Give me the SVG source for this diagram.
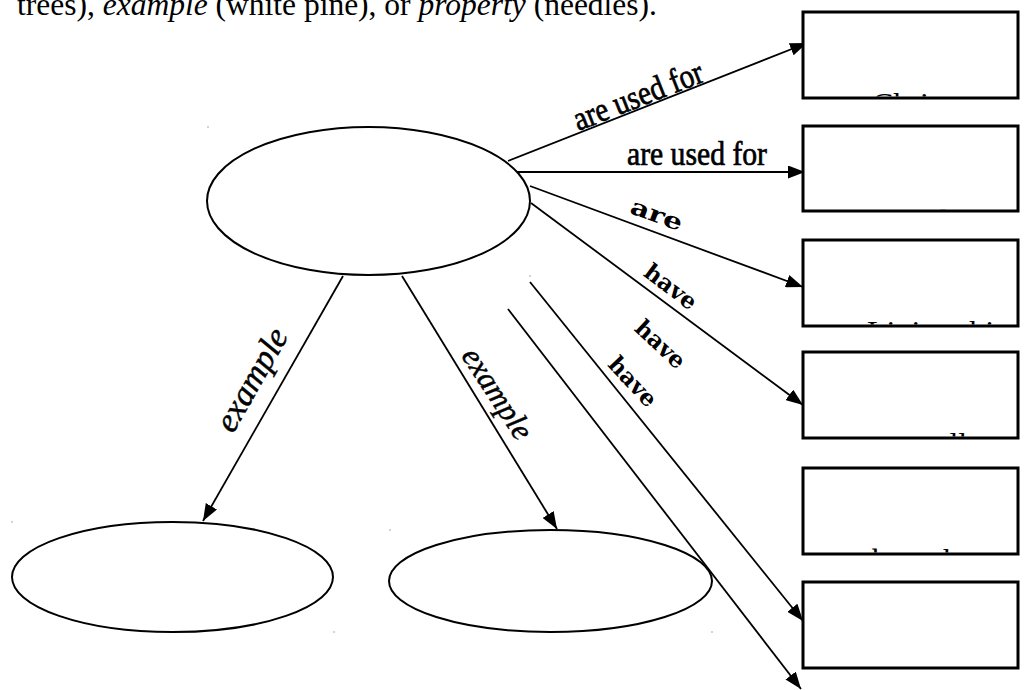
<svg xmlns="http://www.w3.org/2000/svg" width="1028" height="690" viewBox="0 0 1028 690">
  <style>
    .node-shape { fill: #ffffff; stroke: #000000; stroke-width: 2; }
    .box { fill: #ffffff; stroke: #000000; stroke-width: 3; }
    .conn { stroke: #000000; stroke-width: 1.8; fill: none; }
    .lbl-serif { font-family: "Liberation Serif", "Times New Roman", serif; fill: #000; }
    .lbl-heavy { stroke: #000; stroke-width: 0.7; }
    .lbl-bold { font-family: "DejaVu Serif", "Liberation Serif", serif; font-weight: bold; fill: #000; font-size: 23px; }
    .lbl-italic { font-family: "Liberation Serif", "Times New Roman", serif; font-style: italic; fill: #000; stroke: #000; stroke-width: 0.5; }
    .frag { font-family: "Liberation Serif", "Times New Roman", serif; font-size: 32px; fill: #000; }
    .speck { fill: #555; }
  </style>
  <defs>
    <marker id="arrow" markerUnits="userSpaceOnUse" markerWidth="17" markerHeight="13" refX="17" refY="6.5" orient="auto">
      <path d="M0,0 L17,6.5 L0,13 z" fill="#000"/>
    </marker>
    <clipPath id="clip1"><rect x="803" y="12" width="215" height="84.5"/></clipPath>
    <clipPath id="clip2"><rect x="803" y="126" width="215" height="83.5"/></clipPath>
    <clipPath id="clip3"><rect x="803" y="240" width="215" height="84.5"/></clipPath>
    <clipPath id="clip4"><rect x="803" y="352" width="215" height="84.5"/></clipPath>
    <clipPath id="clip5"><rect x="803" y="468" width="215" height="84.5"/></clipPath>
  </defs>
  <rect width="1028" height="690" fill="#ffffff"/>

  <text class="lbl-serif" x="17" y="15" font-size="31.5">trees), <tspan font-style="italic">example</tspan> (white pine), or <tspan font-style="italic">property</tspan> (needles).</text>

  <g id="connectors">
    <line class="conn" x1="508" y1="161" x2="807" y2="43" marker-end="url(#arrow)"/>
    <line class="conn" x1="515" y1="172" x2="805" y2="172" marker-end="url(#arrow)"/>
    <line class="conn" x1="530" y1="186" x2="803" y2="287" marker-end="url(#arrow)"/>
    <line class="conn" x1="531" y1="203" x2="803" y2="405" marker-end="url(#arrow)"/>
    <line class="conn" x1="530" y1="282" x2="803" y2="621" marker-end="url(#arrow)"/>
    <line class="conn" x1="508" y1="309" x2="801" y2="689" marker-end="url(#arrow)"/>
    <line class="conn" x1="343" y1="276" x2="203" y2="521" marker-end="url(#arrow)"/>
    <line class="conn" x1="402" y1="276" x2="557" y2="529" marker-end="url(#arrow)"/>

    <text class="lbl-serif lbl-heavy" font-size="34" text-anchor="middle" textLength="137" lengthAdjust="spacingAndGlyphs" transform="translate(642,106) rotate(-21.5)">are used for</text>
    <text class="lbl-serif lbl-heavy" font-size="34" text-anchor="middle" textLength="140" lengthAdjust="spacingAndGlyphs" x="697" y="165">are used for</text>
    <text class="lbl-bold" font-size="24" text-anchor="middle" textLength="54" lengthAdjust="spacingAndGlyphs" transform="translate(654,222) rotate(20)">are</text>
    <text class="lbl-bold" text-anchor="middle" transform="translate(666,293) rotate(37)">have</text>
    <text class="lbl-bold" text-anchor="middle" transform="translate(655,350) rotate(43)">have</text>
    <text class="lbl-bold" text-anchor="middle" transform="translate(627,387) rotate(47)">have</text>
    <text class="lbl-italic" font-size="34" text-anchor="middle" transform="translate(261,385) rotate(-60.3)">example</text>
    <text class="lbl-italic" font-size="31" text-anchor="middle" transform="translate(489,399) rotate(57)">example</text>
  </g>

  <g id="node-main"><ellipse class="node-shape" cx="368.5" cy="201" rx="161.5" ry="74"/></g>
  <g id="node-example-1"><ellipse class="node-shape" cx="172.5" cy="577" rx="160.5" ry="55"/></g>
  <g id="node-example-2"><ellipse class="node-shape" cx="550.5" cy="581" rx="161.5" ry="51"/></g>

  <g id="box-1">
    <rect class="box" x="803" y="12" width="215" height="86"/>
    <text class="frag" x="872" y="115" clip-path="url(#clip1)">Christmas</text>
  </g>
  <g id="box-2">
    <rect class="box" x="803" y="126" width="215" height="85"/>
    <text class="frag" x="891" y="232" clip-path="url(#clip2)">lumber</text>
  </g>
  <g id="box-3">
    <rect class="box" x="803" y="240" width="215" height="86"/>
    <text class="frag" x="867" y="343" clip-path="url(#clip3)">Living things</text>
  </g>
  <g id="box-4">
    <rect class="box" x="803" y="352" width="215" height="86"/>
    <text class="frag" x="921" y="455" clip-path="url(#clip4)">cells</text>
  </g>
  <g id="box-5">
    <rect class="box" x="803" y="468" width="215" height="86"/>
    <text class="frag" x="872" y="571" clip-path="url(#clip5)">branches</text>
  </g>
  <g id="box-6">
    <rect class="box" x="803" y="582" width="215" height="86"/>
  </g>

  <g id="specks">
    <rect class="speck" x="207.5" y="126.5" width="1" height="1"/>
    <rect class="speck" x="11.5" y="521.5" width="1" height="1"/>
    <rect class="speck" x="389.5" y="529.5" width="1" height="1"/>
    <rect class="speck" x="333.5" y="631.5" width="1" height="1"/>
    <rect class="speck" x="711.5" y="631.5" width="1" height="1"/>
    <rect class="speck" x="529.5" y="275.5" width="1" height="1"/>
  </g>
</svg>
